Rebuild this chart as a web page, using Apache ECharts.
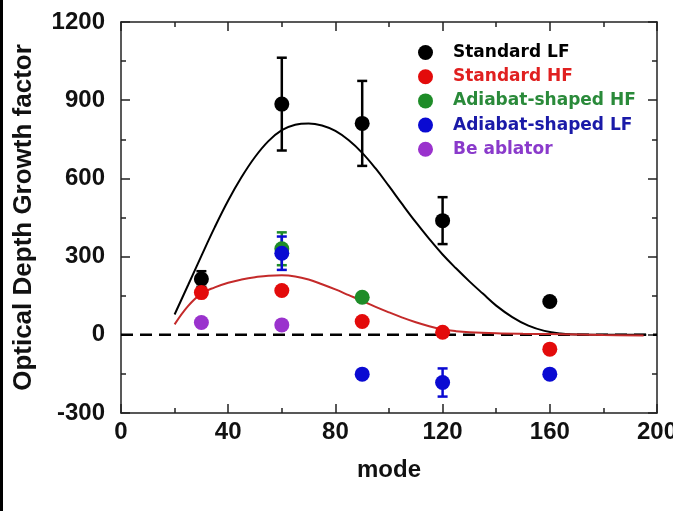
<!DOCTYPE html>
<html lang="en">
  <head>
    <meta charset="UTF-8" />
    <title>Optical Depth Growth factor</title>
    <script src="https://cdn.jsdelivr.net/npm/echarts@6.0.0/dist/echarts.min.js"></script>
    <style>
      html, body { margin: 0; padding: 0; background: #fff; overflow: hidden; width: 673px; height: 511px; }
      #chart { position: absolute; left: 0; top: 0; width: 673px; height: 511px; }
      #edge { position: absolute; left: 0; top: 0; width: 3px; height: 511px; background: #000; }
    </style>
  </head>
  <body>
    <div id="chart"></div>
    <div id="edge"></div>

    <script type="text/javascript">
      // measured points (mode, growth factor, error half-width)
      const lfModes = [30, 60, 90, 120, 160];
      const standardLF = [214, 885, 811, 438, 128];
      const standardLFErr = [30, 178, 163, 90, 0];

      const hfModes = [30, 60, 90, 120, 160];
      const standardHF = [162, 170, 51, 10, -55];

      const adHFModes = [60, 90];
      const adiabatHF = [330, 144];
      const adiabatHFErr = [63, 0];

      const adLFModes = [60, 90, 120, 160];
      const adiabatLF = [313, -151, -183, -151];
      const adiabatLFErr = [64, 0, 54, 0];

      const beModes = [30, 60];
      const beAblator = [47, 38];

      // model curves
      const lfCurveModes = [20, 25, 30, 35, 40, 45, 50, 55, 60, 65, 70, 75, 80, 85, 90, 95, 100, 105, 110, 115, 120, 125, 130, 135, 140, 146, 152, 158, 164, 170, 180, 196];
      const lfCurve = [78, 190, 303, 413, 515, 605, 682, 743, 785, 806, 811, 803, 782, 746, 698, 638, 570, 500, 432, 368, 308, 255, 205, 158, 112, 68, 35, 15, 5, 1, 0, 0];
      const hfCurveModes = [20, 25, 30, 35, 40, 45, 50, 55, 60, 65, 70, 75, 80, 85, 90, 95, 100, 105, 110, 115, 120, 125, 130, 140, 150, 160, 170, 180, 195];
      const hfCurve = [40, 110, 158, 182, 200, 212, 221, 227, 228, 224, 212, 194, 174, 152, 130, 107, 86, 66, 48, 33, 21, 14, 10, 6, 4, 3, 1, -1, -3];

      const xTicks = [0, 40, 80, 120, 160, 200];
      const yTicks = [-300, 0, 300, 600, 900, 1200];

      const pair = (xs, ys) => xs.map((x, i) => [x, ys[i]]);
      const triple = (xs, ys, es) => xs.map((x, i) => [x, ys[i], es[i]]);

      const labelFont = { fontFamily: "Liberation Sans", fontWeight: "bold", fontSize: 24, color: "#111" };
      const frame = { color: "#222", width: 1.5 };

      function makeXAxis(position, main) {
        return {
          type: "value",
          position: position,
          min: xTicks[0],
          max: xTicks[xTicks.length - 1],
          interval: 40,
          axisLine: { show: true, onZero: false, lineStyle: frame },
          axisTick: { show: true, inside: true, length: 9, lineStyle: frame },
          minorTick: { show: true, splitNumber: 2, length: 5, lineStyle: frame },
          splitLine: { show: false },
          axisLabel: Object.assign({ show: main, margin: 7, formatter: (v) => String(v) }, labelFont),
          name: main ? "mode" : "",
          nameLocation: "middle",
          nameGap: 45,
          nameTextStyle: labelFont,
        };
      }

      function makeYAxis(position, main) {
        return {
          type: "value",
          position: position,
          min: yTicks[0],
          max: yTicks[yTicks.length - 1],
          interval: 300,
          axisLine: { show: true, onZero: false, lineStyle: frame },
          axisTick: { show: true, inside: true, length: 9, lineStyle: frame },
          minorTick: { show: true, splitNumber: 2, length: 5, lineStyle: frame },
          splitLine: { show: false },
          axisLabel: Object.assign({ show: main, margin: 16, formatter: (v) => String(v) }, labelFont),
          name: main ? "Optical Depth Growth factor" : "",
          nameLocation: "middle",
          nameGap: 84,
          nameTextStyle: Object.assign({}, labelFont, { fontSize: 26 }),
        };
      }

      function errorBars(xs, ys, es, color) {
        return {
          type: "custom",
          z: 3,
          silent: true,
          data: triple(xs, ys, es),
          encode: { x: 0, y: 1 },
          renderItem: function (params, api) {
            const x = api.value(0), y = api.value(1), e = api.value(2);
            if (!e) return null;
            const top = api.coord([x, y + e]);
            const bot = api.coord([x, y - e]);
            const hw = 5;
            const st = { stroke: color, lineWidth: 2.5 };
            return {
              type: "group",
              children: [
                { type: "line", shape: { x1: top[0], y1: top[1], x2: bot[0], y2: bot[1] }, style: st },
                { type: "line", shape: { x1: top[0] - hw, y1: top[1], x2: top[0] + hw, y2: top[1] }, style: st },
                { type: "line", shape: { x1: bot[0] - hw, y1: bot[1], x2: bot[0] + hw, y2: bot[1] }, style: st },
              ],
            };
          },
        };
      }

      function dots(name, xs, ys, color) {
        return {
          name: name,
          type: "scatter",
          z: 4,
          symbol: "circle",
          symbolSize: 15,
          itemStyle: { color: color, opacity: 1 },
          data: pair(xs, ys),
        };
      }

      const chart = echarts.init(document.getElementById("chart"));

      const option = {
        backgroundColor: "#fff",
        animation: false,
        grid: { left: 121, right: 16, top: 22, bottom: 98, outerBoundsMode: "none", containLabel: false },
        xAxis: [makeXAxis("bottom", true), makeXAxis("top", false)],
        yAxis: [makeYAxis("left", true), makeYAxis("right", false)],
        legend: {
          orient: "vertical",
          left: 418,
          top: 44,
          padding: 0,
          itemWidth: 45,
          itemHeight: 15,
          itemGap: 7.2,
          textStyle: { fontFamily: "DejaVu Sans", fontWeight: "bold", fontSize: 17, lineHeight: 15 },
          data: [
            { name: "Standard LF", textStyle: { color: "#000" } },
            { name: "Standard HF", textStyle: { color: "#e02020" } },
            { name: "Adiabat-shaped HF", textStyle: { color: "#2a8a3a" } },
            { name: "Adiabat-shaped LF", textStyle: { color: "#1a1aa8" } },
            { name: "Be ablator", textStyle: { color: "#8a3acb" } },
          ],
        },
        series: [
          {
            type: "line",
            z: 1,
            silent: true,
            symbol: "none",
            data: [[0, 0], [200, 0]],
            lineStyle: { color: "#000", width: 2.5, type: [12, 7] },
          },
          {
            type: "line",
            z: 2,
            silent: true,
            symbol: "none",
            smooth: 0.4,
            data: pair(lfCurveModes, lfCurve),
            lineStyle: { color: "#000", width: 2 },
          },
          {
            type: "line",
            z: 2,
            silent: true,
            symbol: "none",
            smooth: 0.4,
            data: pair(hfCurveModes, hfCurve),
            lineStyle: { color: "#c42a2a", width: 2 },
          },
          errorBars(lfModes, standardLF, standardLFErr, "#000"),
          errorBars(adHFModes, adiabatHF, adiabatHFErr, "#1e8c28"),
          errorBars(adLFModes, adiabatLF, adiabatLFErr, "#0a0ad2"),
          dots("Standard LF", lfModes, standardLF, "#000"),
          dots("Standard HF", hfModes, standardHF, "#e30b0b"),
          dots("Adiabat-shaped HF", adHFModes, adiabatHF, "#1e8c28"),
          dots("Adiabat-shaped LF", adLFModes, adiabatLF, "#0a0ad2"),
          dots("Be ablator", beModes, beAblator, "#9a32cd"),
        ],
      };

      chart.setOption(option);
    </script>
  </body>
</html>
